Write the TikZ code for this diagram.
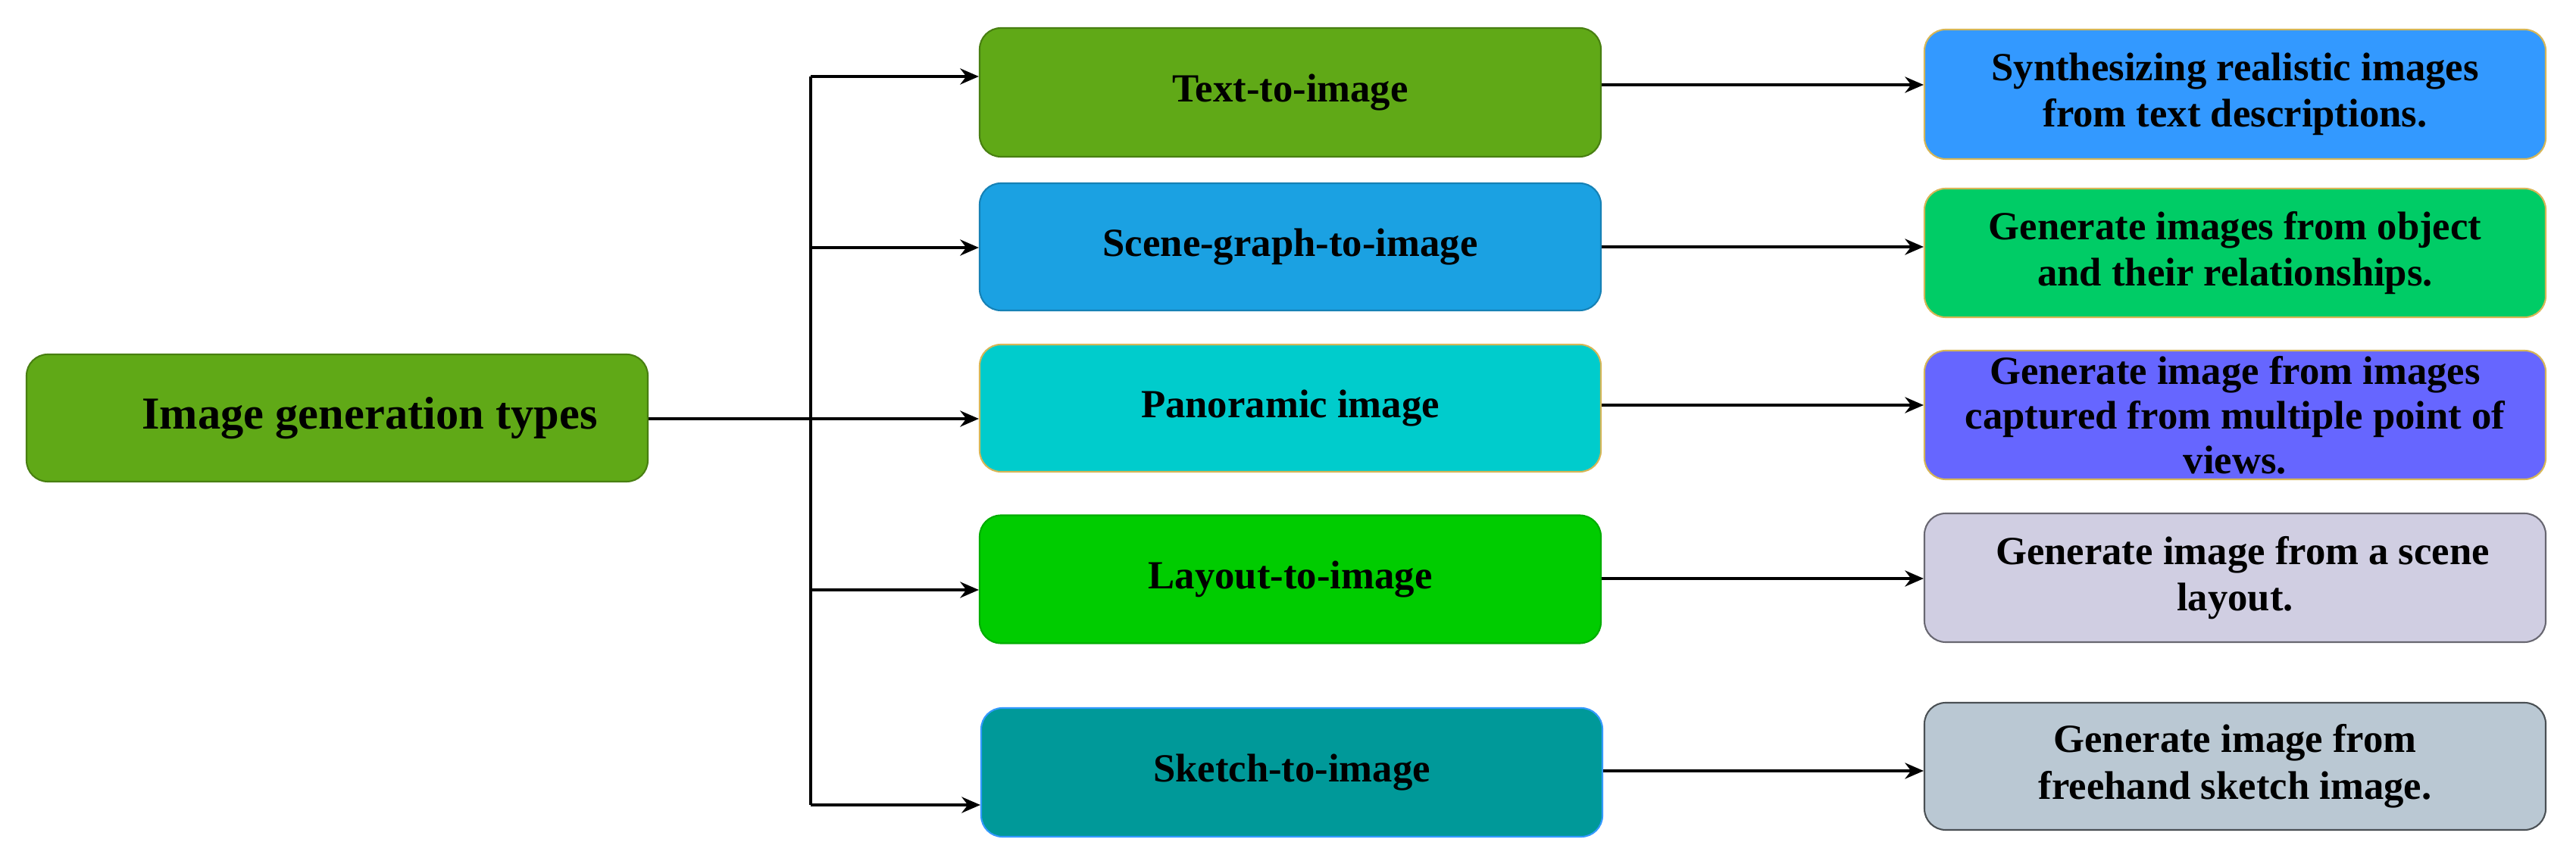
\documentclass[tikz,border=0pt]{standalone}
\usepackage{fontspec}
\setmainfont{Liberation Serif}
\usetikzlibrary{arrows.meta}
\definecolor{rootgreen}{HTML}{60A917}
\definecolor{scenebl}{HTML}{1BA1E2}
\definecolor{panocy}{HTML}{00CCCC}
\definecolor{layoutgr}{HTML}{00CC00}
\definecolor{sketchtl}{HTML}{009999}
\definecolor{descbl}{HTML}{3399FF}
\definecolor{descgr}{HTML}{00CC66}
\definecolor{descvi}{HTML}{6666FF}
\definecolor{desclav}{HTML}{D0CEE2}
\definecolor{descgy}{HTML}{BAC8D3}
\definecolor{edgeor}{HTML}{D6B656}

\begin{document}
\begin{tikzpicture}[
		box/.style={rounded corners=0.28cm,minimum width=8.2cm,minimum height=1.69cm,inner sep=0pt,align=center,line width=0.6pt,font=\fontsize{15}{17.5}\selectfont\bfseries},
		arr/.style={-{Stealth[length=7pt,width=6pt]},line width=1.1pt}]
		\useasboundingbox (0,0) rectangle (34,-11.41);
		% root
		\node[box,fill=rootgreen,draw=rootgreen!75!black,minimum height=1.68cm,font=\fontsize{17.2}{20}\selectfont\bfseries] (root) at (4.45,-5.52) {\hspace*{0.86cm}Image generation types};
		% types
		\node[box,fill=rootgreen,draw=rootgreen!75!black,minimum height=1.70cm] (t2i) at (17.03,-1.22) {Text-to-image};
		\node[box,fill=scenebl,draw=scenebl!80!black,minimum height=1.68cm] (sg2i) at (17.03,-3.26) {Scene-graph-to-image};
		\node[box,fill=panocy,draw=edgeor,minimum height=1.68cm] (pano) at (17.03,-5.39) {Panoramic image};
		\node[box,fill=layoutgr,draw=layoutgr!85!black,minimum height=1.69cm] (l2i) at (17.03,-7.65) {Layout-to-image};
		\node[box,fill=sketchtl,draw=descbl,minimum height=1.70cm] (s2i) at (17.05,-10.20) {Sketch-to-image};
		% descriptions
		\node[box,fill=descbl,draw=edgeor,minimum height=1.71cm] (d1) at (29.50,-1.245) {Synthesizing realistic images\\from text descriptions.};
		\node[box,fill=descgr,draw=edgeor,minimum height=1.70cm] (d2) at (29.50,-3.34) {Generate images from object\\and their relationships.};
		\node[box,fill=descvi,draw=edgeor,minimum height=1.70cm,font=\fontsize{15}{16.8}\selectfont\bfseries] (d3) at (29.50,-5.48) {Generate image from images\\captured from multiple point of\\views.};
		\node[box,fill=desclav,draw=desclav!50!black,minimum height=1.70cm] (d4) at (29.50,-7.63) {\hspace*{0.2cm}Generate image from a scene\\layout.};
		\node[box,fill=descgy,draw=descgy!40!black,minimum height=1.68cm] (d5) at (29.50,-10.12) {Generate image from\\freehand sketch image.};
		% trunk
		\coordinate (top) at (10.70,-1.01);
		\coordinate (bot) at (10.70,-10.63);
		\draw[line width=1.1pt] (top) -- (bot);
		\draw[arr] (root.east |- 0,-5.53) -- (pano.west |- 0,-5.53);
		\draw[arr] (top) -- (t2i.west |- top);
		\draw[arr] (top |- 0,-3.27) -- (sg2i.west |- 0,-3.27);
		\draw[arr] (top |- 0,-7.79) -- (l2i.west |- 0,-7.79);
		\draw[arr] (bot) -- (s2i.west |- bot);
		% to descriptions
		\draw[arr] (t2i.east |- 0,-1.12) -- (d1.west |- 0,-1.12);
		\draw[arr] (sg2i.east |- 0,-3.26) -- (d2.west |- 0,-3.26);
		\draw[arr] (pano.east |- 0,-5.35) -- (d3.west |- 0,-5.35);
		\draw[arr] (l2i.east |- 0,-7.64) -- (d4.west |- 0,-7.64);
		\draw[arr] (s2i.east |- 0,-10.18) -- (d5.west |- 0,-10.18);
\end{tikzpicture}
\end{document}
